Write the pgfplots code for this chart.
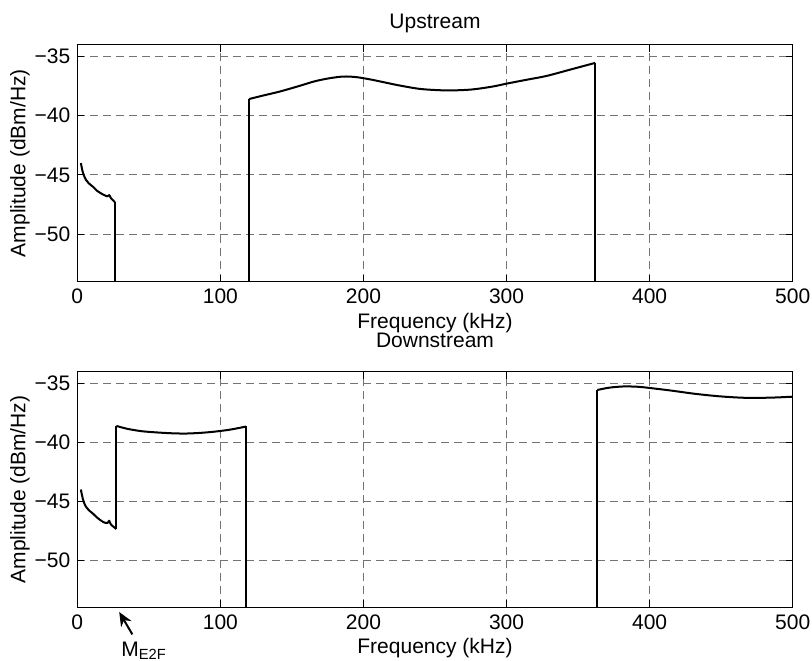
\documentclass[border=0pt]{standalone}
\usepackage{fontspec}
\setmainfont{Liberation Sans}
\usepackage{pgfplots}
\pgfplotsset{compat=1.18}
\usetikzlibrary{arrows.meta}

\pgfplotsset{
  specax/.style={
    scale only axis, width=357.7pt,
    xmin=0, xmax=500, ymin=-54, ymax=-34,
    xtick={0,100,200,300,400,500}, xticklabels={0,100,200,300,400,500},
    ytick={-50,-45,-40,-35}, yticklabels={−50,−45,−40,−35},
    grid=major,
    grid style={dash pattern=on 4pt off 2.5pt, black!55, line width=0.5pt},
    major tick length=3.5pt,
    tick style={black, line width=0.5pt},
    axis line style={line width=0.6pt},
    tick label style={font=\fontsize{10.5}{12}\selectfont},
    label style={font=\fontsize{10.5}{12}\selectfont},
    title style={font=\fontsize{10.5}{12}\selectfont},
    xlabel={Frequency (kHz)},
    ylabel={Amplitude (dBm/Hz)},
    xlabel style={at={(axis description cs:0.5,0)}, anchor=center, yshift=-20.5pt},
    ylabel style={at={(axis description cs:-0.08,0.5)}, anchor=center},
    title style={at={(axis description cs:0.5,1)}, anchor=center, yshift=4.5pt},
  },
  spec/.style={black, line width=1pt, line join=round, no marks},
}

\begin{document}
\begin{tikzpicture}
\path[use as bounding box] (-38.65pt,-189.15pt) rectangle (367.35pt,140.85pt);

% upstream
\begin{axis}[specax, height=118.6pt, at={(0,0)}, anchor=south west, title={Upstream}]
\addplot[spec, smooth] coordinates {
  (2.5,-44.0) (3.5,-44.6) (4.5,-45.0) (6,-45.4) (8,-45.7) (11,-46.0)
  (14,-46.35) (18,-46.65) (21,-46.8) (22.3,-46.7) (23.5,-46.95) (26.3,-47.3)
};
\addplot[spec] coordinates {(26.3,-47.3) (26.3,-54)};
\addplot[spec] coordinates {(120,-54) (120,-38.6)};
\addplot[spec, smooth] coordinates {
  (120,-38.6) (130,-38.3) (142,-37.95) (155,-37.5) (166,-37.1) (176,-36.85)
  (186,-36.7) (195,-36.75) (205,-36.95) (215,-37.2) (225,-37.45) (240,-37.75)
  (258,-37.87) (275,-37.8) (290,-37.55) (300,-37.3) (315,-36.95) (328,-36.65)
  (345,-36.1) (362,-35.55)
};
\addplot[spec] coordinates {(362,-35.55) (362,-54)};
\end{axis}

% downstream
\begin{axis}[specax, height=117.8pt, at={(0,-162.8pt)}, anchor=south west,
  title={Downstream}, title style={yshift=5pt}, clip=false]
\addplot[spec, smooth] coordinates {
  (2.5,-44.0) (3.5,-44.6) (4.5,-45.05) (6,-45.45) (8,-45.75) (11,-46.05)
  (14,-46.4) (18,-46.75) (21,-46.85) (22.3,-46.65) (23.5,-46.97) (27.3,-47.35)
};
\addplot[spec] coordinates {(27.3,-47.35) (27.3,-38.6)};
\addplot[spec, smooth] coordinates {
  (27.3,-38.6) (35,-38.85) (45,-39.05) (55,-39.15) (65,-39.22) (75,-39.25)
  (85,-39.2) (95,-39.1) (105,-38.95) (112,-38.8) (118,-38.65)
};
\addplot[spec] coordinates {(118,-38.65) (118,-54)};
\addplot[spec] coordinates {(363.5,-54) (363.5,-35.55)};
\addplot[spec, smooth] coordinates {
  (363.5,-35.55) (372,-35.35) (382,-35.25) (392,-35.28) (400,-35.38) (415,-35.6)
  (432,-35.88) (450,-36.1) (468,-36.22) (485,-36.2) (500,-36.12)
};
\draw[-{Stealth[length=7pt,width=6pt]}, line width=1pt]
  (axis cs:38.5,-56.3) -- (axis cs:29.3,-54.4);
\node[font=\fontsize{10.5}{12}\selectfont] at (axis cs:46.7,-57.7) {M\textsubscript{E2F}};
\end{axis}
\end{tikzpicture}
\end{document}
